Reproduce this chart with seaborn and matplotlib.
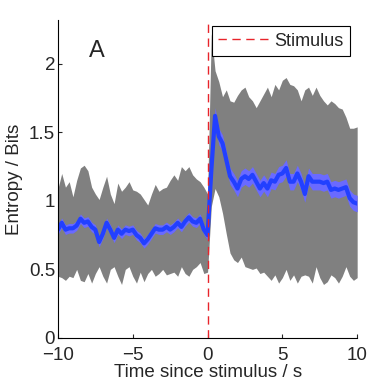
import numpy as np
import pandas as pd
import matplotlib
matplotlib.use('Agg')
import matplotlib.pyplot as plt
import seaborn as sns

# time axis (s), sampled every 0.25 s
time = np.arange(-10, 10.001, 0.25)

# mean entropy (bits)
mean_entropy = [
    0.79, 0.84, 0.79, 0.80, 0.80, 0.82, 0.87, 0.84, 0.85, 0.81,
    0.79, 0.70, 0.76, 0.84, 0.79, 0.73, 0.79, 0.76, 0.79, 0.78,
    0.79, 0.75, 0.73, 0.69, 0.72, 0.76, 0.80, 0.79, 0.79, 0.81,
    0.79, 0.81, 0.84, 0.81, 0.85, 0.88, 0.85, 0.84, 0.87, 0.79,
    0.75, 1.22, 1.62, 1.47, 1.42, 1.30, 1.18, 1.14, 1.09, 1.16,
    1.18, 1.16, 1.19, 1.14, 1.09, 1.13, 1.09, 1.15, 1.14, 1.19,
    1.20, 1.24, 1.14, 1.14, 1.20, 1.14, 1.05, 1.18, 1.14, 1.14,
    1.14, 1.13, 1.14, 1.08, 1.09, 1.08, 1.09, 1.10, 1.02, 0.99,
    0.98,
]

# standard error of the mean
sem_entropy = [
    0.035, 0.035, 0.035, 0.035, 0.035, 0.035, 0.035, 0.035, 0.035, 0.035,
    0.035, 0.035, 0.035, 0.035, 0.035, 0.035, 0.035, 0.035, 0.035, 0.035,
    0.035, 0.035, 0.035, 0.035, 0.035, 0.035, 0.035, 0.035, 0.035, 0.035,
    0.035, 0.035, 0.035, 0.035, 0.035, 0.035, 0.035, 0.035, 0.035, 0.035,
    0.035, 0.05, 0.06, 0.06, 0.06, 0.06, 0.06, 0.06, 0.06, 0.06,
    0.06, 0.06, 0.06, 0.06, 0.06, 0.06, 0.06, 0.06, 0.06, 0.06,
    0.06, 0.06, 0.06, 0.06, 0.06, 0.06, 0.06, 0.06, 0.06, 0.06,
    0.06, 0.06, 0.06, 0.06, 0.06, 0.06, 0.06, 0.06, 0.06, 0.06,
    0.06,
]

# spread across trials (upper / lower bound of gray band)
upper_entropy = [
    1.09, 1.20, 1.10, 1.14, 1.03, 1.15, 1.24, 1.26, 1.22, 1.10,
    1.05, 1.01, 1.10, 1.18, 1.05, 0.98, 1.13, 1.07, 1.10, 1.14,
    1.08, 1.07, 1.05, 1.01, 0.97, 1.05, 1.12, 1.07, 1.09, 1.10,
    1.15, 1.19, 1.15, 1.25, 1.22, 1.25, 1.19, 1.16, 1.14, 1.10,
    1.05, 2.22, 1.95, 1.87, 1.76, 1.81, 1.73, 1.72, 1.77, 1.81,
    1.83, 1.76, 1.73, 1.68, 1.73, 1.78, 1.83, 1.76, 1.85, 1.81,
    1.88, 1.90, 1.85, 1.84, 1.81, 1.73, 1.81, 1.83, 1.77, 1.83,
    1.77, 1.73, 1.70, 1.73, 1.71, 1.68, 1.67, 1.61, 1.53, 1.53,
    1.54,
]
lower_entropy = [
    0.45, 0.44, 0.42, 0.45, 0.44, 0.50, 0.42, 0.41, 0.47, 0.40,
    0.47, 0.52, 0.45, 0.40, 0.50, 0.52, 0.45, 0.39, 0.50, 0.52,
    0.45, 0.40, 0.48, 0.41, 0.47, 0.50, 0.45, 0.47, 0.50, 0.46,
    0.47, 0.48, 0.45, 0.52, 0.47, 0.45, 0.50, 0.52, 0.55, 0.47,
    0.48, 0.96, 1.09, 1.03, 0.91, 0.76, 0.62, 0.57, 0.55, 0.59,
    0.52, 0.51, 0.50, 0.51, 0.47, 0.48, 0.45, 0.42, 0.46, 0.40,
    0.44, 0.50, 0.42, 0.46, 0.40, 0.45, 0.46, 0.45, 0.40, 0.52,
    0.44, 0.39, 0.41, 0.46, 0.44, 0.40, 0.45, 0.52, 0.45, 0.42,
    0.44,
]

df = pd.DataFrame({'time': time, 'mean': mean_entropy, 'sem': sem_entropy,
                   'upper': upper_entropy, 'lower': lower_entropy})

sns.set_style('ticks')
plt.rcParams['font.family'] = ['Liberation Sans', 'DejaVu Sans']
plt.rcParams['xtick.direction'] = 'in'
plt.rcParams['ytick.direction'] = 'in'

fig = plt.figure(figsize=(3.74, 3.84), dpi=100)
ax = fig.add_axes([0.155, 0.12, 0.80, 0.828])

# gray spread band
ax.fill_between(df['time'], df['lower'], df['upper'], color='#808080', linewidth=0)
# blue SEM band
ax.fill_between(df['time'], df['mean'] - df['sem'], df['mean'] + df['sem'],
                color='#6a6aff', linewidth=0)
# mean line
sns.lineplot(x='time', y='mean', data=df, color='#2240ff', linewidth=3.0, ax=ax)

# stimulus onset
ax.axvline(0, color='#e8242b', linestyle=(0, (6, 4)), linewidth=1.0, label='Stimulus')

ax.set_xlim(-10, 10)
ax.set_ylim(0, 2.32)
ax.set_xticks([-10, -5, 0, 5, 10])
ax.set_xticklabels(['\u221210', '\u22125', '0', '5', '10'])
ax.set_yticks([0, 0.5, 1, 1.5, 2])
ax.set_yticklabels(['0', '0.5', '1', '1.5', '2'])
ax.tick_params(labelsize=13.5, length=3, width=0.8, pad=2)
ax.tick_params(axis='x', pad=6.5)

ax.set_xlabel('Time since stimulus / s', fontsize=13.5, labelpad=0)
ax.set_ylabel('Entropy / Bits', fontsize=13.5, labelpad=4)

ax.text(-7.95, 2.09, 'A', fontsize=17, va='center', ha='left')

leg = ax.legend(loc='upper right', bbox_to_anchor=(0.975, 0.98), borderaxespad=0,
                fontsize=13, handlelength=2.8, handletextpad=0.3, fancybox=False,
                framealpha=1, edgecolor='black', borderpad=0.35)
leg.get_frame().set_linewidth(0.8)

sns.despine(ax=ax)
for s in ['left', 'bottom']:
    ax.spines[s].set_linewidth(0.8)
    ax.spines[s].set_color('black')

fig.savefig('out.png', dpi=100)
